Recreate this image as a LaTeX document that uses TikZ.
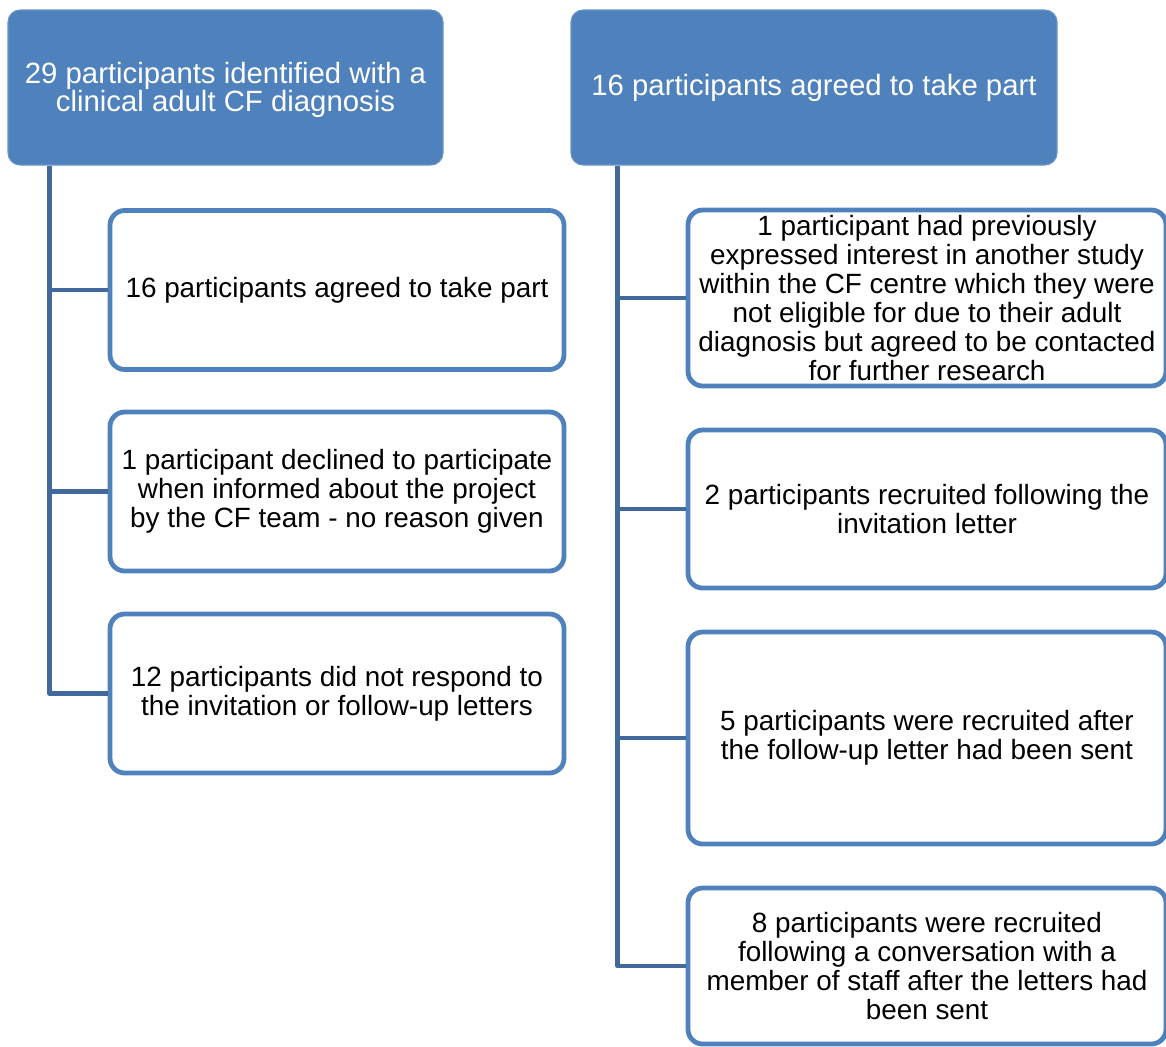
\documentclass[tikz,border=0pt]{standalone}
\usepackage{fontspec}
\setmainfont{Liberation Sans}
\usetikzlibrary{calc}
\definecolor{hdrblue}{HTML}{4F81BD}
\definecolor{hdredge}{HTML}{6A95C8}
\definecolor{boxedge}{HTML}{4F81BD}
\definecolor{linkblue}{HTML}{41699C}
\begin{document}
\begin{tikzpicture}[x=0.75pt,y=-0.75pt,
  hdrbox/.style={rectangle, rounded corners=9pt, fill=hdrblue, draw=hdredge, line width=0.8pt,
    text=white, align=center, inner sep=0pt,
    font=\fontsize{22pt}{21.6pt}\selectfont},
  leafbox/.style={rectangle, rounded corners=11pt, fill=white, draw=boxedge, line width=3.6pt,
    text=black, align=center, inner sep=0pt,
    font=\fontsize{20.9pt}{21.7pt}\selectfont},
  leftleaf/.style={leafbox, minimum width=340.5pt},
  rightleaf/.style={leafbox, minimum width=358.5pt},
  conn/.style={draw=linkblue, line width=3.6pt, line join=round}]
\useasboundingbox (0,0) rectangle (1166,1046);

% headers
\node[hdrbox, minimum width=326.25pt, minimum height=116.25pt] (hL) at (225.5,87.5)
  {\rule{0pt}{2pt}\\[-4pt]29 participants identified with a\\clinical adult CF diagnosis};
\node[hdrbox, minimum width=364.5pt, minimum height=116.25pt] (hR) at (814,87.5)
  {\raisebox{-2pt}{16 participants agreed to take part}};

% left column
\node[leftleaf, minimum height=119.25pt] (l1) at (337,290)
  {16 participants agreed to take part};
\node[leftleaf, minimum height=119.25pt] (l2) at (337,491.5)
  {1 participant declined to participate\\when informed about the project\\by the CF team - no reason given};
\node[leftleaf, minimum height=119.25pt] (l3) at (337,693.5)
  {12 participants did not respond to\\the invitation or follow-up letters};

% right column
\node[rightleaf, minimum height=132pt] (r1) at (927,298)
  {1 participant had previously\\expressed interest in another study\\within the CF centre which they were\\not eligible for due to their adult\\diagnosis but agreed to be contacted\\for further research};
\node[rightleaf, minimum height=118.5pt] (r2) at (927,509)
  {2 participants recruited following the\\invitation letter};
\node[rightleaf, minimum height=159pt] (r3) at (927,738)
  {5 participants were recruited after\\the follow-up letter had been sent};
\node[rightleaf, minimum height=117pt] (r4) at (927,966)
  {8 participants were recruited\\following a conversation with a\\member of staff after the letters had\\been sent};

% trunks and branches
\coordinate (tL) at (49.5,166);
\coordinate (tR) at (617.5,166);
\draw[conn] (tL) |- (l3.west);
\draw[conn] (l1.west) -- (l1.west -| tL);
\draw[conn] (l2.west) -- (l2.west -| tL);
\draw[conn] (tR) |- (r4.west);
\draw[conn] (r1.west) -- (r1.west -| tR);
\draw[conn] (r2.west) -- (r2.west -| tR);
\draw[conn] (r3.west) -- (r3.west -| tR);
\end{tikzpicture}
\end{document}
